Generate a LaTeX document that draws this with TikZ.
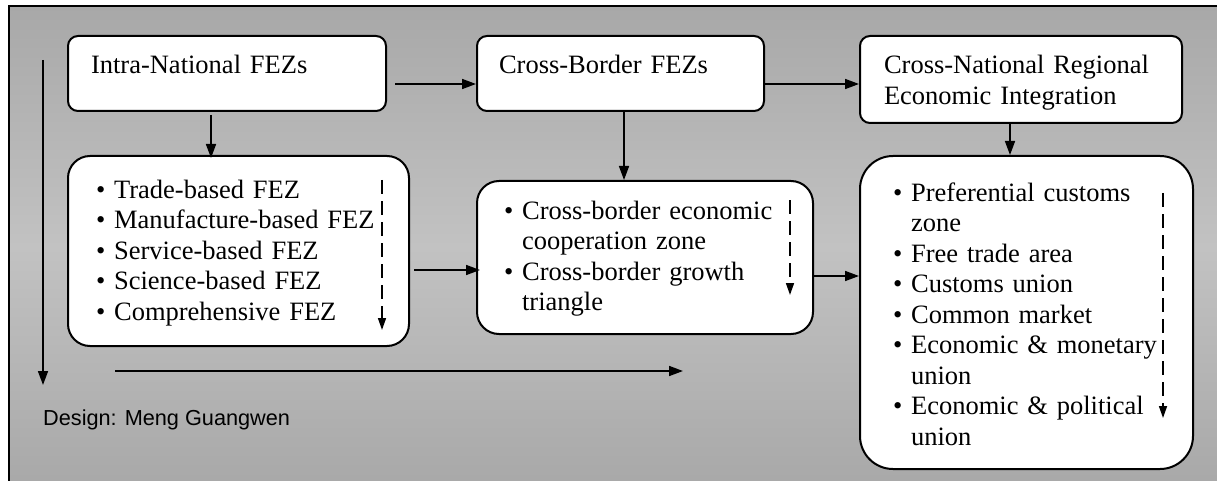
\documentclass[tikz,border=0pt]{standalone}
\usepackage{fontspec}
\setmainfont{Liberation Serif}
\newfontfamily\designfont{Liberation Sans}
\usepackage{tikz}
\usetikzlibrary{calc,positioning,arrows.meta}
\definecolor{bgdark}{RGB}{168,168,168}
\definecolor{bglight}{RGB}{194,194,194}
\newcommand{\hang}{\phantom{\textbullet\ }}

\begin{document}
\begin{tikzpicture}[x=1pt,y=-1pt,
  zone/.style={draw, fill=white, line width=2pt, anchor=north west, align=left, inner ysep=0pt,
    font=\fontsize{26.5}{30.5}\selectfont},
  arr/.style={line width=1.6pt, -{Triangle[length=14pt,width=10pt]}},
  darr/.style={line width=1.6pt, dash pattern=on 14pt off 7pt, -{Triangle[length=12pt,width=8pt]}}]
\useasboundingbox (0,0) rectangle (1217,481);
\clip (0,0) rectangle (1217,481);
\draw[line width=2.5pt, top color=bgdark, bottom color=bgdark, middle color=bglight] (9,6) rectangle (1224,488);
% top row
\node[zone, rounded corners=10pt, inner xsep=23pt, text width=272pt, text height=38pt, text depth=37pt] (intra) at (67,35) {Intra-National FEZs};
\node[zone, rounded corners=10pt, inner xsep=22pt, text width=243pt, text height=38pt, text depth=37pt] (cross) at (476,35) {Cross-Border FEZs};
\node[zone, rounded corners=10pt, inner xsep=24pt, text width=274pt, text height=38pt, text depth=49pt] (cni) at (859,35) {Cross-National Regional\\Economic Integration};
% lists
\node[zone, rounded corners=22pt, inner xsep=28pt, text width=285pt, text height=42pt, text depth=148pt] (intrab) at (67,155)
  {\textbullet\ Trade-based FEZ\\ \textbullet\ Manufacture-based FEZ\\ \textbullet\ Service-based FEZ\\ \textbullet\ Science-based FEZ\\ \textbullet\ Comprehensive FEZ};
\node[zone, rounded corners=22pt, inner xsep=27pt, text width=282pt, text height=38pt, text depth=115pt] (crossb) at (476,180)
  {\textbullet\ Cross-border economic\\ \hang cooperation zone\\ \textbullet\ Cross-border growth\\ \hang triangle};
\node[zone, rounded corners=33pt, inner xsep=33pt, text width=267pt, text height=45pt, text depth=268pt] (cnib) at (859,155)
  {\textbullet\ Preferential customs\\ \hang zone\\ \textbullet\ Free trade area\\ \textbullet\ Customs union\\ \textbullet\ Common market\\
   \textbullet\ Economic \& monetary\\ \hang union\\ \textbullet\ Economic \& political\\ \hang union};
\node[anchor=base west, inner sep=0pt, font=\designfont\fontsize{21.7}{26}\selectfont] (design) at (43,425) {Design: Meng Guangwen};
% connectors
\draw[arr] ([xshift=8pt,yshift=-10.5pt]intra.east) -- ([yshift=-10.5pt]cross.west);
\draw[arr] ([yshift=-10.5pt]cross.east) -- ([yshift=-4.5pt]cni.west);
\draw[arr] ([xshift=-16pt,yshift=-3pt]intra.south) -- ([xshift=-16pt,yshift=-3pt]intra.south |- intrab.north);
\draw[arr] ([xshift=3.5pt]cross.south) -- ([xshift=3.5pt]cross.south |- crossb.north);
\draw[arr] ([xshift=-11pt]cni.south) -- ([xshift=-11pt]cni.south |- cnib.north);
\draw[arr] ([xshift=4pt,yshift=-19pt]intrab.east) -- ([xshift=4pt,yshift=-19pt]intrab.east -| crossb.west);
\draw[arr] ([yshift=-18.5pt]crossb.east) -- ([yshift=-18.5pt]crossb.east -| cnib.west);
% dashed arrows inside the lists
\draw[darr] ([shift={(-28pt,-25pt)}]intrab.north east) -- ([shift={(-28pt,-175pt)}]intrab.north east);
\draw[darr] ([shift={(-24pt,-20pt)}]crossb.north east) -- ([shift={(-24pt,-115pt)}]crossb.north east);
\draw[darr] ([shift={(-31pt,-38pt)}]cnib.north east) -- ([shift={(-31pt,-263pt)}]cnib.north east);
% long arrows
\coordinate (vtop) at (43,60);
\coordinate (vbot) at (43,385);
\coordinate (hleft) at (115,371);
\coordinate (hright) at (683,371);
\draw[arr] (vtop) -- (vbot);
\draw[arr] (hleft) -- (hright);
\end{tikzpicture}
\end{document}
